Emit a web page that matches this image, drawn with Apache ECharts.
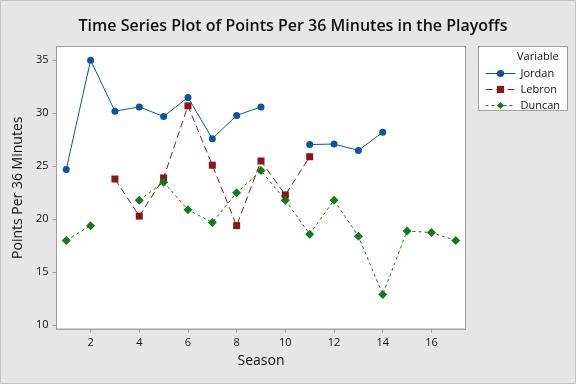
<!DOCTYPE html>
<html><head><meta charset="utf-8">
<script src="https://cdn.jsdelivr.net/npm/echarts@6/dist/echarts.min.js"></script>
<style>html,body{margin:0;padding:0;background:#e6e6e6}#c{width:576px;height:384px}</style>
</head><body><div id="c"></div>
<script>
const seasons = [1,2,3,4,5,6,7,8,9,10,11,12,13,14,15,16,17];
const jordan = [24.7,35.0,30.2,30.6,29.7,31.5,27.6,29.8,30.6,null,27.05,27.1,26.5,28.2,null,null,null];
const lebron = [null,null,23.8,20.3,23.9,30.7,25.1,19.4,25.5,22.3,25.9,null,null,null,null,null,null];
const duncan = [18.0,19.4,null,21.8,23.5,20.9,19.7,22.5,24.6,21.8,18.6,21.8,18.4,12.9,18.9,18.75,18.0];
const xTicks = [2,4,6,8,10,12,14,16];
const yTicks = [10,15,20,25,30,35];

const font = '"Open Sans", "DejaVu Sans", sans-serif';
const pair = arr => seasons.map((s,i)=>[s, arr[i]===null ? '-' : arr[i]]);
const chart = echarts.init(document.getElementById('c'));
chart.setOption({
  backgroundColor: '#e6e6e6',
  animation: false,
  title: {text: 'Time Series Plot of Points Per 36 Minutes in the Playoffs', left: 288, textAlign: 'center', top: 13,
    textStyle: {fontFamily: font, fontSize: 16, fontWeight: 600, color: '#111'}},
  graphic: [
    {type:'rect', shape:{x:0.5,y:0.5,width:575,height:383}, style:{fill:'none', stroke:'#c4c4c4', lineWidth:1}, silent:true},
    {type:'rect', shape:{x:478.5,y:46.5,width:89,height:64}, style:{fill:'#fff', stroke:'#a0a0a0', lineWidth:1}, z:0},
    {type:'text', left:517, top:51, style:{text:'Variable', font:'11px ' + font, fill:'#111'}, z:10}
  ],
  legend: {orient:'vertical', left:480, top:63, itemGap:5, itemWidth:30, itemHeight:9,
    lineStyle:{width:1}, itemStyle:{},
    textStyle:{fontFamily:font, fontSize:11, color:'#111'}, data:['Jordan','Lebron','Duncan']},
  grid: {left:56.5, right:110.5, top:46.5, bottom:55, show:true, backgroundColor:'#fff', borderColor:'#a0a0a0', borderWidth:1},
  xAxis: {type:'value', min:0.6, max:17.4, name:'Season', nameLocation:'middle', nameGap:25,
    nameTextStyle:{fontFamily:font, fontSize:14, color:'#111'},
    axisLine:{show:true, onZero:false, lineStyle:{color:'#a0a0a0'}},
    splitLine:{show:false},
    axisLabel:{fontFamily:font, fontSize:11, color:'#111', customValues: xTicks},
    axisTick:{show:true, length:4, customValues: xTicks, lineStyle:{color:'#a0a0a0'}}},
  yAxis: {type:'value', min:9.65, max:36.3, name:'Points Per 36 Minutes', nameLocation:'middle', nameGap:29,
    nameTextStyle:{fontFamily:font, fontSize:14, color:'#111'},
    axisLine:{show:true, onZero:false, lineStyle:{color:'#a0a0a0'}},
    splitLine:{show:false},
    axisLabel:{fontFamily:font, fontSize:11, color:'#111', customValues: yTicks},
    axisTick:{show:true, length:4, customValues: yTicks, lineStyle:{color:'#a0a0a0'}}},
  series: [
    {name:'Jordan', type:'line', data:pair(jordan), connectNulls:false, symbol:'circle', symbolSize:7,
      itemStyle:{color:'#0b55a0'}, lineStyle:{color:'#0b55a0', width:1}},
    {name:'Lebron', type:'line', data:pair(lebron), connectNulls:false, symbol:'rect', symbolSize:7,
      itemStyle:{color:'#8c1515'}, lineStyle:{color:'#8c1515', width:1, type:[7,4]}},
    {name:'Duncan', type:'line', data:pair(duncan), connectNulls:false, symbol:'diamond', symbolSize:9,
      itemStyle:{color:'#137a1b'}, lineStyle:{color:'#137a1b', width:1, type:[3,3]}}
  ]
});
</script></body></html>
